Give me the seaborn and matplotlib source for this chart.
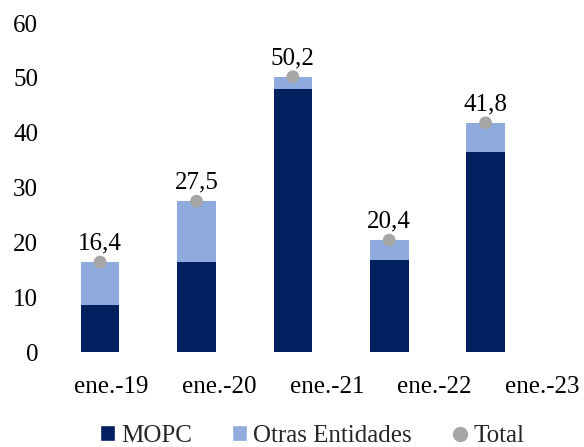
import pandas as pd
import seaborn as sns
import matplotlib.pyplot as plt
from matplotlib.lines import Line2D
from matplotlib.patches import Patch
from matplotlib.transforms import ScaledTranslation

categorias = ['ene.-19', 'ene.-20', 'ene.-21', 'ene.-22', 'ene.-23']
mopc = [8.5, 16.4, 48.0, 16.8, 36.4]
total = [16.4, 27.5, 50.2, 20.4, 41.8]
otras = [t - m for t, m in zip(total, mopc)]

azul_oscuro = '#002060'
azul_claro = '#8FAADC'
gris = '#A6A6A6'

df = pd.DataFrame({'mes': categorias, 'MOPC': mopc, 'Otras': otras, 'Total': total})

sns.set_theme(style='white')
plt.rcParams['font.family'] = ['Liberation Serif', 'DejaVu Serif']

fig, ax = plt.subplots(figsize=(5.84, 4.47), dpi=100)
fig.subplots_adjust(left=0.089, right=0.914, top=0.9485, bottom=0.2125)

sns.barplot(data=df, x='mes', y='MOPC', color=azul_oscuro, width=0.4,
            saturation=1, linewidth=0, ax=ax)
sns.barplot(data=df, x='mes', y='Otras', color=azul_claro, width=0.4,
            saturation=1, linewidth=0, bottom=df['MOPC'], ax=ax)
sns.scatterplot(data=df, x='mes', y='Total', color=gris, s=85,
                edgecolor='none', zorder=5, ax=ax)

for i, t in enumerate(total):
    ax.annotate(f'{t:.1f}'.replace('.', ','), (i, t), xytext=(0, 9),
                textcoords='offset points', ha='center', va='baseline',
                fontsize=18, color='black')

ax.set_ylim(0, 60)
ax.set_yticks(range(0, 61, 10))
ax.set_xlim(-0.5, 4.5)
ax.set_xlabel('')
ax.set_ylabel('')
ax.tick_params(axis='both', labelsize=18, colors='black', length=0)
ax.tick_params(axis='y', pad=10)
ax.tick_params(axis='x', pad=17)
sns.despine(ax=ax, left=True, bottom=True)

# in the original the category labels drift right of the bars
for i, lbl in enumerate(ax.get_xticklabels()):
    dx = (11 + 11.5 * i) / 100
    lbl.set_transform(lbl.get_transform() + ScaledTranslation(dx, 0, fig.dpi_scale_trans))

handles = [
    Patch(facecolor=azul_oscuro, label='MOPC'),
    Patch(facecolor=azul_claro, label='Otras Entidades'),
    Line2D([], [], marker='o', linestyle='none', color=gris, markersize=10, label='Total'),
]
ax.legend(handles=handles, loc='center', bbox_to_anchor=(0.54, -0.255),
          ncol=3, frameon=False, fontsize=18, handlelength=0.6, handleheight=0.6,
          handletextpad=0.25, columnspacing=1.6, borderpad=0)

fig.savefig('out.png', dpi=100)
